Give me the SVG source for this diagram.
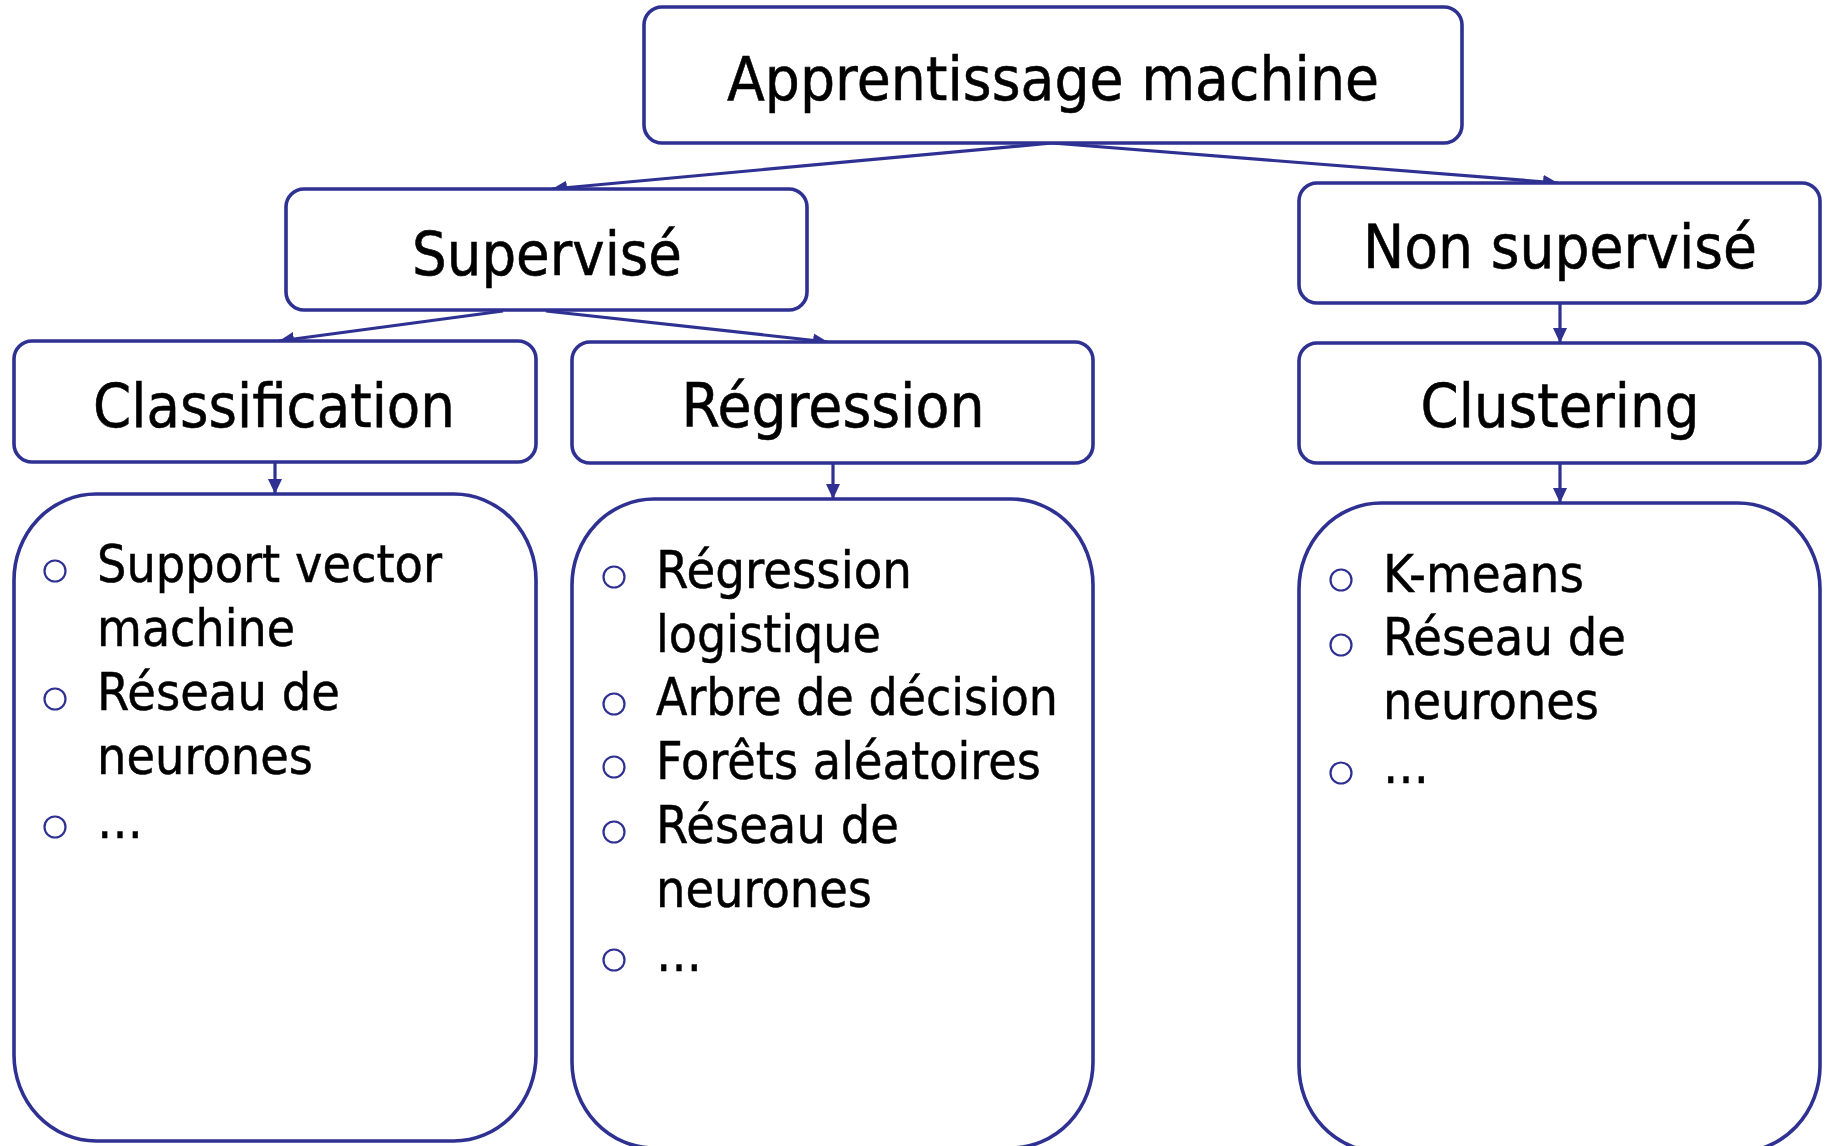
<svg xmlns="http://www.w3.org/2000/svg" width="1825" height="1146" viewBox="0 0 1825 1146">
  <style>
    .box { fill: #ffffff; stroke: #2E3192; stroke-width: 3.6; }
    .link { fill: none; stroke: #2E3192; stroke-width: 3.2; marker-end: url(#arrow); }
    .head { font-family: "DejaVu Sans", "Liberation Sans", sans-serif; font-size: 61px; fill: #000000; stroke: #000000; stroke-width: 0.6; text-anchor: middle; }
    .item { font-family: "DejaVu Sans", "Liberation Sans", sans-serif; font-size: 51px; fill: #000000; stroke: #000000; stroke-width: 0.5; }
    .dot { fill: none; stroke: #2E3192; stroke-width: 2.2; }
  </style>
  <defs>
    <marker id="arrow" markerUnits="userSpaceOnUse" markerWidth="16" markerHeight="14" refX="15" refY="7" orient="auto">
      <path d="M0,0 L15,7 L0,14 Z" fill="#2E3192"/>
    </marker>
  </defs>

  <rect width="1825" height="1146" fill="#ffffff"/>

  <!-- connectors -->
  <g id="connectors">
    <line class="link" x1="1052" y1="143" x2="552" y2="189"/>
    <line class="link" x1="1052" y1="143" x2="1558" y2="183"/>
    <line class="link" x1="503" y1="311" x2="279" y2="341"/>
    <line class="link" x1="546" y1="311" x2="828" y2="342"/>
    <line class="link" x1="275" y1="463" x2="275" y2="494"/>
    <line class="link" x1="833" y1="463" x2="833" y2="499"/>
    <line class="link" x1="1560" y1="303" x2="1560" y2="343"/>
    <line class="link" x1="1560" y1="463" x2="1560" y2="503"/>
  </g>

  <!-- category boxes -->
  <g id="apprentissage">
    <rect class="box" x="644" y="7" width="818" height="136" rx="18" ry="18"/>
    <text class="head" x="1053" y="100" textLength="652" lengthAdjust="spacingAndGlyphs">Apprentissage machine</text>
  </g>
  <g id="supervise">
    <rect class="box" x="286" y="189" width="521" height="121" rx="18" ry="18"/>
    <text class="head" x="547" y="275" textLength="270" lengthAdjust="spacingAndGlyphs">Supervisé</text>
  </g>
  <g id="non-supervise">
    <rect class="box" x="1299" y="183" width="521" height="120" rx="18" ry="18"/>
    <text class="head" x="1560" y="268" textLength="394" lengthAdjust="spacingAndGlyphs">Non supervisé</text>
  </g>
  <g id="classification">
    <rect class="box" x="14" y="341" width="522" height="121" rx="18" ry="18"/>
    <text class="head" x="274" y="427" textLength="362" lengthAdjust="spacingAndGlyphs">Classification</text>
  </g>
  <g id="regression">
    <rect class="box" x="572" y="342" width="521" height="121" rx="18" ry="18"/>
    <text class="head" x="833" y="427" textLength="303" lengthAdjust="spacingAndGlyphs">Régression</text>
  </g>
  <g id="clustering">
    <rect class="box" x="1299" y="343" width="521" height="120" rx="18" ry="18"/>
    <text class="head" x="1560" y="427" textLength="279" lengthAdjust="spacingAndGlyphs">Clustering</text>
  </g>

  <!-- method lists -->
  <g id="liste-classification">
    <rect class="box" x="14" y="494" width="522" height="647" rx="82" ry="86"/>
    <circle class="dot" cx="55" cy="571" r="10.5"/>
    <circle class="dot" cx="55" cy="699" r="10.5"/>
    <circle class="dot" cx="55" cy="827" r="10.5"/>
    <text class="item" x="97" y="582" textLength="345" lengthAdjust="spacingAndGlyphs">Support vector</text>
    <text class="item" x="97" y="646" textLength="198" lengthAdjust="spacingAndGlyphs">machine</text>
    <text class="item" x="97" y="710" textLength="243" lengthAdjust="spacingAndGlyphs">Réseau de</text>
    <text class="item" x="97" y="774" textLength="216" lengthAdjust="spacingAndGlyphs">neurones</text>
    <text class="item" x="97" y="838" textLength="46" lengthAdjust="spacingAndGlyphs">…</text>
  </g>
  <g id="liste-regression">
    <rect class="box" x="572" y="499" width="521" height="649" rx="82" ry="86"/>
    <circle class="dot" cx="614" cy="577" r="10.5"/>
    <circle class="dot" cx="614" cy="704" r="10.5"/>
    <circle class="dot" cx="614" cy="767" r="10.5"/>
    <circle class="dot" cx="614" cy="832" r="10.5"/>
    <circle class="dot" cx="614" cy="960" r="10.5"/>
    <text class="item" x="656" y="588" textLength="256" lengthAdjust="spacingAndGlyphs">Régression</text>
    <text class="item" x="656" y="652" textLength="225" lengthAdjust="spacingAndGlyphs">logistique</text>
    <text class="item" x="656" y="715" textLength="402" lengthAdjust="spacingAndGlyphs">Arbre de décision</text>
    <text class="item" x="656" y="779" textLength="385" lengthAdjust="spacingAndGlyphs">Forêts aléatoires</text>
    <text class="item" x="656" y="843" textLength="243" lengthAdjust="spacingAndGlyphs">Réseau de</text>
    <text class="item" x="656" y="907" textLength="216" lengthAdjust="spacingAndGlyphs">neurones</text>
    <text class="item" x="656" y="971" textLength="46" lengthAdjust="spacingAndGlyphs">…</text>
  </g>
  <g id="liste-clustering">
    <rect class="box" x="1299" y="503" width="521" height="649" rx="82" ry="86"/>
    <circle class="dot" cx="1341" cy="580" r="10.5"/>
    <circle class="dot" cx="1341" cy="645" r="10.5"/>
    <circle class="dot" cx="1341" cy="773" r="10.5"/>
    <text class="item" x="1383" y="592" textLength="201" lengthAdjust="spacingAndGlyphs">K-means</text>
    <text class="item" x="1383" y="655" textLength="243" lengthAdjust="spacingAndGlyphs">Réseau de</text>
    <text class="item" x="1383" y="719" textLength="216" lengthAdjust="spacingAndGlyphs">neurones</text>
    <text class="item" x="1383" y="783" textLength="46" lengthAdjust="spacingAndGlyphs">…</text>
  </g>
</svg>
